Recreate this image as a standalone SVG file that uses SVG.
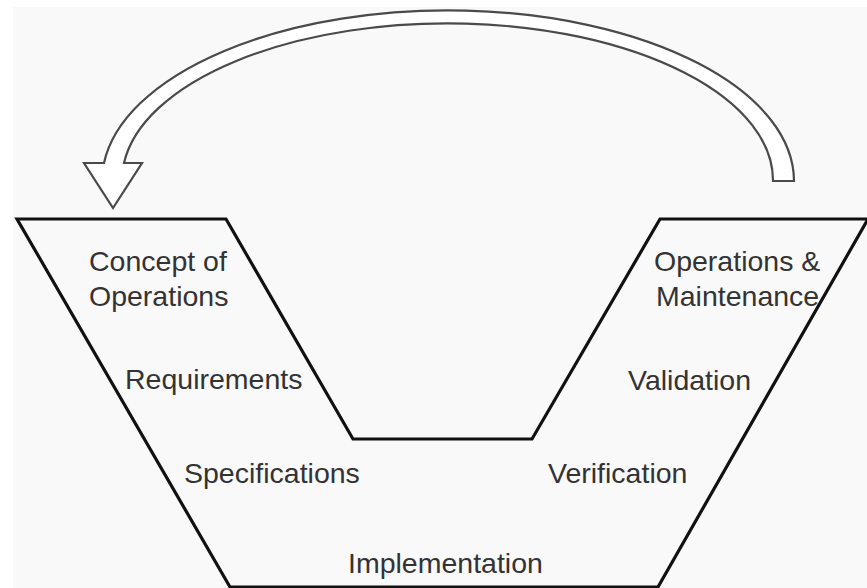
<svg xmlns="http://www.w3.org/2000/svg" width="867" height="588" viewBox="0 0 867 588">
  <style>
    .label { font-family: "Liberation Sans", Arial, sans-serif; font-size: 28.5px; fill: #333333; }
    .outline { fill: none; stroke: #111111; stroke-width: 3.2; stroke-linejoin: miter; }
    .loop { fill: #ffffff; stroke: #4a4a4a; stroke-width: 2.2; stroke-linejoin: miter; }
  </style>
  <rect x="0" y="0" width="867" height="588" fill="#ffffff"/>
  <rect x="13" y="7" width="854" height="581" fill="#f9f9f9"/>

  <!-- feedback loop arrow from operations back to concept -->
  <g id="connectors">
    <path class="loop" d="M794,181 A346,171 0 0 0 104,163 L84,163 L113,208 L142,163 L124,163 A325.5,157 0 0 1 773,181 Z"/>
  </g>

  <!-- the V outline -->
  <g id="v-shape">
    <polygon class="outline" points="17,219 226,219 353,439 532,439 660,219 868,219 658,587 230,587"/>
  </g>

  <g id="concept">
    <text class="label" x="89" y="271">Concept of</text>
    <text class="label" x="89" y="306">Operations</text>
  </g>
  <g id="requirements">
    <text class="label" x="125" y="389">Requirements</text>
  </g>
  <g id="specifications">
    <text class="label" x="184" y="483">Specifications</text>
  </g>
  <g id="implementation">
    <text class="label" x="348" y="573">Implementation</text>
  </g>
  <g id="verification">
    <text class="label" x="548" y="483">Verification</text>
  </g>
  <g id="validation">
    <text class="label" x="628" y="390">Validation</text>
  </g>
  <g id="operations">
    <text class="label" x="654" y="271">Operations &amp;</text>
    <text class="label" x="656" y="306">Maintenance</text>
  </g>
</svg>
